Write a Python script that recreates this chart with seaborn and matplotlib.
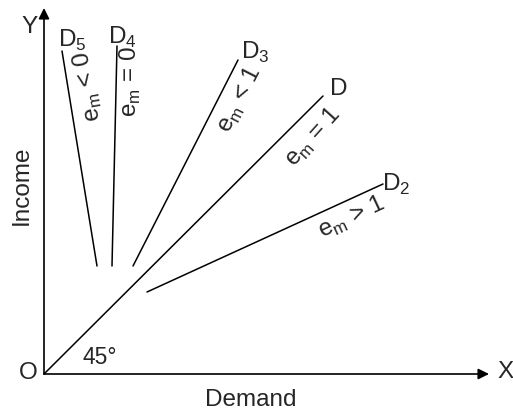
import matplotlib
matplotlib.use("Agg")
import matplotlib.pyplot as plt
import pandas as pd
import seaborn as sns

sns.set_style("white")
plt.rcParams["font.family"] = ["Liberation Sans", "DejaVu Sans"]
plt.rcParams["mathtext.fontset"] = "custom"
plt.rcParams["mathtext.rm"] = "Liberation Sans"

# Demand curves: (start x, start y) -> (end x, end y), origin at O
curves = ["D5", "D4", "D3", "D", "D2"]
x0 = [53, 68, 89, 0, 103]
y0 = [108, 108, 108, 0, 82]
x1 = [18, 73, 194, 279, 339]
y1 = [323, 328, 314, 278, 190]

end_labels = ["D$_\\mathregular{5}$", "D$_\\mathregular{4}$", "D$_\\mathregular{3}$", "D", "D$_\\mathregular{2}$"]
elasticity = ["e$_\\mathregular{m}$ < 0", "e$_\\mathregular{m}$ = 0", "e$_\\mathregular{m}$ < 1",
              "e$_\\mathregular{m}$ = 1", "e$_\\mathregular{m}$ > 1"]

df = pd.DataFrame({
    "curve": curves * 2,
    "x": x0 + x1,
    "y": y0 + y1,
})

fig = plt.figure(figsize=(5.13, 4.10), dpi=100)
ax = fig.add_axes([0, 0, 1, 1])
ax.set_xlim(-44, 469)
ax.set_ylim(-35, 375)
ax.axis("off")

sns.lineplot(data=df, x="x", y="y", units="curve", estimator=None, sort=False,
             color="black", lw=1.1, ax=ax)

# axes with arrow heads
arrow = dict(arrowstyle="-|>", mutation_scale=16, color="black", lw=1.2, shrinkA=0, shrinkB=0)
ax.annotate("", xy=(0, 366), xytext=(0, 0), arrowprops=arrow)
ax.annotate("", xy=(445, 0), xytext=(0, 0), arrowprops=arrow)

fs = 17.5
lab_pos = [(28, 335), (78, 338), (211, 323), (295, 286), (352, 191)]
for lab, (lx, ly) in zip(end_labels, lab_pos):
    ax.text(lx, ly, lab, fontsize=fs, ha="center", va="center")

el_pos = [(44, 289), (86, 293), (196, 275), (269, 238), (308, 157)]
el_rot = [100, 90, 63, 48, 25]
for lab, (lx, ly), r in zip(elasticity, el_pos, el_rot):
    ax.text(lx, ly, lab, fontsize=fs, ha="center", va="center", rotation=r,
            rotation_mode="anchor")

ax.text(-14, 348, "Y", fontsize=fs, ha="center", va="center")
ax.text(462, 3, "X", fontsize=fs, ha="center", va="center")
ax.text(-16, 2, "O", fontsize=fs, ha="center", va="center")
ax.text(56, 17, "45°", fontsize=fs - 1, ha="center", va="center")
ax.text(-22, 190, "Income", fontsize=fs, ha="center", va="center", rotation=90)
ax.text(207, -25, "Demand", fontsize=fs, ha="center", va="center")

fig.savefig("out.png", dpi=100)
